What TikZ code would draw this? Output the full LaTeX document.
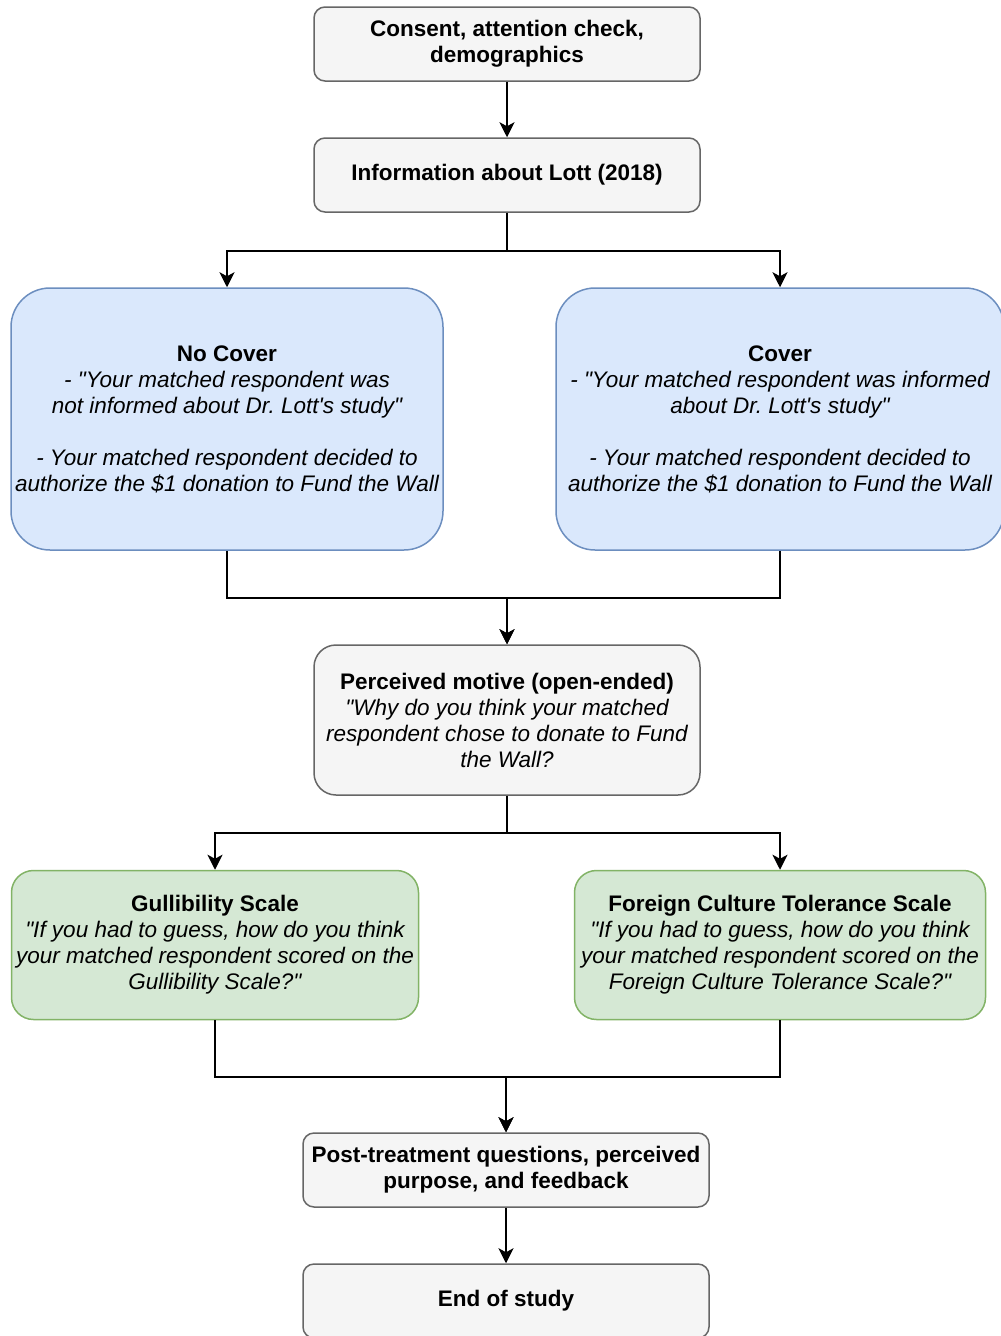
\documentclass[tikz,border=0pt]{standalone}
\usepackage{fontspec}
\setmainfont{Liberation Sans}[Ligatures=TeXOff]
\usepackage{tikz}
\usepackage{xcolor}
\usetikzlibrary{arrows.meta}
\frenchspacing
\definecolor{greyfill}{HTML}{F5F5F5}
\definecolor{greyline}{HTML}{666666}
\definecolor{bluefill}{HTML}{DAE8FC}
\definecolor{blueline}{HTML}{6C8EBF}
\definecolor{greenfill}{HTML}{D5E8D4}
\definecolor{greenline}{HTML}{82B366}
\newcommand{\boxfont}{\fontsize{22.5}{26}\selectfont}
\tikzstyle{greybox} = [rectangle, rounded corners=11pt, inner sep=2pt, align=center, line width=1.5pt, draw=greyline, fill=greyfill, font=\boxfont\bfseries]
\tikzstyle{bluebox} = [rectangle, rounded corners=39pt, inner sep=2pt, align=center, line width=1.5pt, draw=blueline, fill=bluefill, minimum width=432pt, minimum height=262pt]
\tikzstyle{greenbox} = [rectangle, rounded corners=22pt, inner sep=2pt, align=center, line width=1.5pt, draw=greenline, fill=greenfill, minimum height=149pt]
\tikzstyle{arrow} = [line width=2pt,-{Stealth[length=15pt,width=15pt,inset=4pt]}]

\begin{document}
\begin{tikzpicture}[node distance=131pt, font=\boxfont]
\useasboundingbox (0,0) rectangle (1001pt,-1336pt);
\node (consent) [greybox, minimum width=386pt, minimum height=74pt] at (507pt,-44pt) {Consent, attention check,\\demographics};
\node (info) [greybox, below of=consent, minimum width=386pt, minimum height=74pt] {Information about Lott (2018)};

\node (nocover) [bluebox, below of=info, xshift=-280pt, yshift=-113pt] {\textbf{No Cover}\\\itshape - "Your matched respondent was\\\itshape not informed about Dr. Lott's study"\\[26pt]\itshape - Your matched respondent decided to\\\itshape authorize the \$1 donation to Fund the Wall};
\node (cover) [bluebox, below of=info, xshift=273pt, yshift=-113pt, minimum width=448pt] {\textbf{Cover}\\\itshape - "Your matched respondent was informed\\\itshape about Dr. Lott's study"\\[26pt]\itshape - Your matched respondent decided to\\\itshape authorize the \$1 donation to Fund the Wall};

\node (perceived) [greybox, below of=info, yshift=-414pt, rounded corners=22pt, minimum width=386pt, minimum height=150pt, font=\boxfont] {\textbf{Perceived motive (open-ended)}\\\itshape "Why do you think your matched\\\itshape respondent chose to donate to Fund\\\itshape the Wall?};

\node (gull) [greenbox, below of=perceived, xshift=-292pt, yshift=-94pt, minimum width=407pt] {\textbf{Gullibility Scale}\\\itshape "If you had to guess, how do you think\\\itshape your matched respondent scored on the\\\itshape Gullibility Scale?"};
\node (foreign) [greenbox, below of=perceived, xshift=273pt, yshift=-94pt, minimum width=411pt] {\textbf{Foreign Culture Tolerance Scale}\\\itshape "If you had to guess, how do you think\\\itshape your matched respondent scored on the\\\itshape Foreign Culture Tolerance Scale?"};

\node (post) [greybox, below of=perceived, xshift=-1pt, yshift=-319pt, minimum width=406pt, minimum height=74pt] {Post-treatment questions, perceived\\purpose, and feedback};
\node (end) [greybox, below of=post, minimum width=406pt, minimum height=74pt] {End of study};

\draw [arrow] (consent) -- (info);
\draw [arrow] (info.south) -- ++(0,-38pt) -| (nocover.north);
\draw [arrow] (info.south) -- ++(0,-38pt) -| (cover.north);
\draw [arrow] (nocover.south) -- ++(0,-47pt) -| (perceived.north);
\draw [arrow] (cover.south) -- ++(0,-47pt) -| (perceived.north);
\draw [arrow] (perceived.south) -- ++(0,-37pt) -| (gull.north);
\draw [arrow] (perceived.south) -- ++(0,-37pt) -| (foreign.north);
\draw [arrow] (gull.south) -- ++(0,-57pt) -| (post.north);
\draw [arrow] (foreign.south) -- ++(0,-57pt) -| (post.north);
\draw [arrow] (post) -- (end);
\end{tikzpicture}
\end{document}
